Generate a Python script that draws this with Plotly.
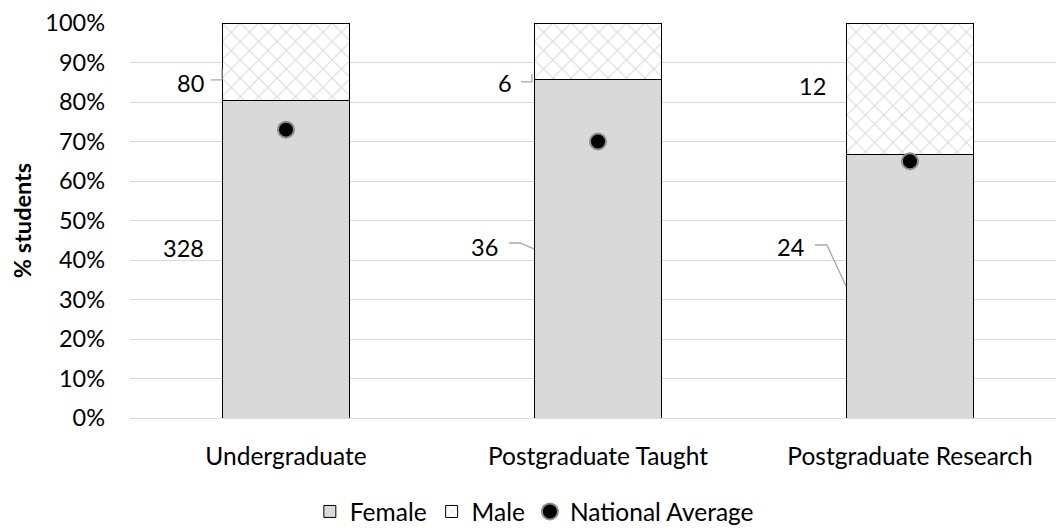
import plotly.graph_objects as go

categories = ["Undergraduate", "Postgraduate Taught", "Postgraduate Research"]
female_counts = [328, 36, 24]
male_counts = [80, 6, 12]
national_avg = [73, 70, 65]
y_ticks = [0, 10, 20, 30, 40, 50, 60, 70, 80, 90, 100]
y_tick_labels = [f"{t}%" for t in y_ticks]

totals = [f + m for f, m in zip(female_counts, male_counts)]
female_pct = [f / t * 100 for f, t in zip(female_counts, totals)]
male_pct = [m / t * 100 for m, t in zip(male_counts, totals)]

FONT = "Lato"
FS = 23.5
FS_CAT = 24.5
BAR_W = 0.404
# pixel scale of plot area (used for label offsets)
PX_X = 1 / 312.0
PX_Y = 100 / 395.0

fig = go.Figure()
fig.add_trace(go.Bar(
    x=categories, y=female_pct, name="Female", width=BAR_W,
    marker=dict(color="#d9d9d9", line=dict(color="#000000", width=1)),
    hoverinfo="skip"))
fig.add_trace(go.Bar(
    x=categories, y=male_pct, name="Male", width=BAR_W,
    marker=dict(color="#ffffff", line=dict(color="#000000", width=1),
                pattern=dict(shape="x", fgcolor="#b3b3b3", bgcolor="#ffffff",
                             size=13, solidity=0.16)),
    hoverinfo="skip"))
fig.add_trace(go.Scatter(
    x=categories, y=national_avg, name="National Average", mode="markers",
    marker=dict(color="#000000", size=16, line=dict(color="#8c8c8c", width=2)),
    hoverinfo="skip"))

# label placement (style: y level in %, right-edge pixel gap from bar)
female_label_y = [43.0, 43.2, 43.2]
female_label_gap = [17, 35, 41]
male_label_y = [84.8, 84.8, 84.0]
male_label_gap = [17, 21, 19]

annotations = []
for i in range(3):
    edge = i - BAR_W / 2
    annotations.append(dict(x=edge - female_label_gap[i] * PX_X, y=female_label_y[i],
                            text=str(female_counts[i]), showarrow=False,
                            xanchor="right", yanchor="middle",
                            font=dict(family=FONT, size=FS, color="#000000")))
    annotations.append(dict(x=edge - male_label_gap[i] * PX_X, y=male_label_y[i],
                            text=str(male_counts[i]), showarrow=False,
                            xanchor="right", yanchor="middle",
                            font=dict(family=FONT, size=FS, color="#000000")))

# leader lines, pixel offsets from bar edge / label level
leaders = [
    (0, [(-12, 85.6), (-1, 85.6), (-1, 88.4)]),
    (1, [(-14, 85.1), (-3, 85.1), (-3, 87.1)]),
    (1, [(-26, 44.3), (-15, 44.3), (-1, 42.8)]),
    (2, [(-32, 43.8), (-20, 43.8), (-1, 33.4)]),
]
shapes = []
for i, pts in leaders:
    edge = i - BAR_W / 2
    path = ""
    for k, (dx, yv) in enumerate(pts):
        path += ("M" if k == 0 else "L") + f"{edge + dx * PX_X},{yv}"
    shapes.append(dict(type="path", path=path, xref="x", yref="y",
                       line=dict(color="#a6a6a6", width=1.3)))

fig.update_layout(
    barmode="stack",
    width=1056, height=529,
    margin=dict(l=130, r=0, t=23, b=111, autoexpand=False),
    paper_bgcolor="#ffffff", plot_bgcolor="#ffffff",
    font=dict(family=FONT, size=FS, color="#000000"),
    showlegend=True,
    legend=dict(orientation="h", xref="container", x=0.506, xanchor="center",
                yref="container", y=0.033, yanchor="middle",
                font=dict(family=FONT, size=FS_CAT), traceorder="normal",
                itemwidth=30, bgcolor="rgba(0,0,0,0)"),
    annotations=annotations,
    shapes=shapes,
    xaxis=dict(type="category", range=[-0.5, 2.468], showgrid=False,
               showline=False, ticks="", ticklabelstandoff=21, tickangle=0,
               automargin=False,
               tickfont=dict(family=FONT, size=FS_CAT), fixedrange=True),
    yaxis=dict(range=[0, 100], tickvals=y_ticks, ticktext=y_tick_labels,
               showgrid=True, gridcolor="#d9d9d9", gridwidth=1,
               zeroline=True, zerolinecolor="#d9d9d9", zerolinewidth=1,
               showline=False, ticks="", ticklabelstandoff=24, automargin=False,
               tickfont=dict(family=FONT, size=FS),
               title=dict(text="<b>% students</b>", font=dict(family=FONT, size=FS),
                          standoff=7)),
)

fig.write_html("out.html")
